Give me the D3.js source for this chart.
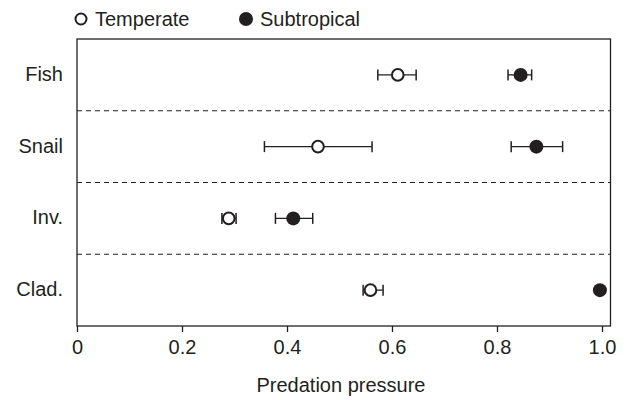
<!DOCTYPE html>
<html><head><meta charset="utf-8">
<script src="https://d3js.org/d3.v7.min.js"></script>
<style>body{margin:0;background:#fff}svg{display:block}text{font-family:"Liberation Sans",Arial,sans-serif;fill:#231f20}</style>
</head><body>
<svg id="c" width="626" height="400"></svg>
<script>
const categories = ["Fish", "Snail", "Inv.", "Clad."];
const temperateMean = [0.611, 0.459, 0.289, 0.559];
const temperateLow  = [0.573, 0.357, 0.276, 0.545];
const temperateHigh = [0.646, 0.562, 0.303, 0.583];
const subtropicalMean = [0.845, 0.875, 0.412, 0.996];
const subtropicalLow  = [0.821, 0.827, 0.378, 0.996];
const subtropicalHigh = [0.866, 0.925, 0.449, 0.996];
const xTicks = [0, 0.2, 0.4, 0.6, 0.8, 1.0];
const xTickLabels = ["0", "0.2", "0.4", "0.6", "0.8", "1.0"];
const seriesNames = ["Temperate", "Subtropical"];

const svg = d3.select("#c");
const L = 77, R = 610.5, T = 39, B = 326;
const x = d3.scaleLinear().domain([0, 1]).range([L, L + 525]);
const y = d3.scaleBand().domain(categories).range([T, B]);
const ink = "#231f20";

// dashed separators
categories.slice(1).forEach(c => {
  svg.append("line").attr("x1", L).attr("x2", R)
    .attr("y1", y(c)).attr("y2", y(c))
    .attr("stroke", ink).attr("stroke-width", 1.2).attr("stroke-dasharray", "5,4");
});

// frame
svg.append("rect").attr("x", L).attr("y", T).attr("width", R - L).attr("height", B - T)
  .attr("fill", "none").attr("stroke", ink).attr("stroke-width", 1.3);

// x axis
const xAxis = d3.axisBottom(x).tickValues(xTicks).tickFormat((d, i) => xTickLabels[i])
  .tickSize(6).tickPadding(8);
const gx = svg.append("g").attr("transform", `translate(0,${B})`).call(xAxis);
gx.select(".domain").remove();
gx.selectAll("line").attr("stroke", ink).attr("stroke-width", 1.3);
gx.selectAll("text").attr("font-size", 20).attr("fill", ink)
  .attr("font-family", '"Liberation Sans",Arial,sans-serif');

svg.append("text").attr("x", 341).attr("y", 392).attr("text-anchor", "middle")
  .attr("font-size", 20).text("Predation pressure");

// y labels
categories.forEach(c => {
  svg.append("text").attr("x", 63).attr("y", y(c) + y.bandwidth() / 2 - 1)
    .attr("text-anchor", "end").attr("dominant-baseline", "central")
    .attr("font-size", 20).text(c);
});

function drawSeries(mean, low, high, filled) {
  categories.forEach((c, i) => {
    const cy = y(c) + y.bandwidth() / 2;
    const g = svg.append("g");
    if (high[i] > low[i]) {
      g.append("line").attr("x1", x(low[i])).attr("x2", x(high[i])).attr("y1", cy).attr("y2", cy)
        .attr("stroke", ink).attr("stroke-width", 1.3);
      [low[i], high[i]].forEach(v => {
        g.append("line").attr("x1", x(v)).attr("x2", x(v)).attr("y1", cy - 5.5).attr("y2", cy + 5.5)
          .attr("stroke", ink).attr("stroke-width", 1.5);
      });
    }
    if (filled) {
      g.append("circle").attr("cx", x(mean[i])).attr("cy", cy).attr("r", 7).attr("fill", ink);
    } else {
      g.append("circle").attr("cx", x(mean[i])).attr("cy", cy).attr("r", 5.8)
        .attr("fill", "#fff").attr("stroke", ink).attr("stroke-width", 2);
    }
  });
}
drawSeries(temperateMean, temperateLow, temperateHigh, false);
drawSeries(subtropicalMean, subtropicalLow, subtropicalHigh, true);

// legend
svg.append("circle").attr("cx", 81).attr("cy", 19).attr("r", 5.5)
  .attr("fill", "#fff").attr("stroke", ink).attr("stroke-width", 2);
svg.append("text").attr("x", 95).attr("y", 26).attr("font-size", 20).text(seriesNames[0]);
svg.append("circle").attr("cx", 246).attr("cy", 19).attr("r", 7).attr("fill", ink);
svg.append("text").attr("x", 260).attr("y", 26).attr("font-size", 20).text(seriesNames[1]);
</script>
</body></html>
